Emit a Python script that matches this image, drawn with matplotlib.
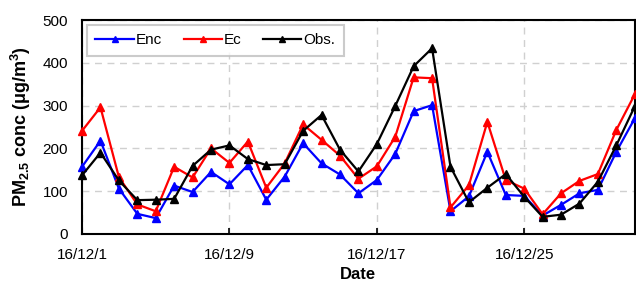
"""
PM2.5 daily concentrations, December 2016: Enc / Ec runs vs observations
"""

import numpy as np
import matplotlib
matplotlib.use('Agg')
import matplotlib.pyplot as plt

plt.rcParams['font.family'] = ['Liberation Sans', 'DejaVu Sans']
plt.rcParams['mathtext.default'] = 'regular'

days = np.arange(1, 32)
tick_days = [1, 9, 17, 25]
tick_labels = ['16/12/1', '16/12/9', '16/12/17', '16/12/25']

enc = [157, 218, 106, 47, 37, 113, 98, 145, 116, 161, 80, 134, 212, 165, 139,
       95, 126, 187, 287, 301, 53, 88, 192, 91, 89, 43, 68, 95, 103, 192, 270]
ec = [241, 296, 133, 69, 53, 157, 132, 200, 166, 216, 108, 165, 256, 220, 183,
      129, 158, 227, 366, 364, 62, 114, 262, 126, 106, 46, 95, 124, 140, 243, 326]
obs = [137, 190, 125, 79, 80, 82, 159, 197, 207, 175, 161, 163, 241, 278, 197,
       146, 210, 299, 392, 434, 157, 74, 108, 140, 87, 40, 45, 71, 122, 207, 298]

fig = plt.figure(figsize=(6.36, 2.86), dpi=100)
ax = fig.add_axes([0.129, 0.182, 0.869, 0.748])

kw = dict(marker='^', markersize=5.5, linewidth=1.6, clip_on=False, zorder=3)
ax.plot(days, enc, color='#0000FF', label='Enc', **kw)
ax.plot(days, ec, color='#FF0000', label='Ec', **kw)
ax.plot(days, obs, color='black', label='Obs.', **kw)

ax.set_xlim(1, 31)
ax.set_ylim(0, 500)
ax.set_xticks(tick_days)
ax.set_xticklabels(tick_labels)
ax.set_yticks([0, 100, 200, 300, 400, 500])
ax.tick_params(axis='x', direction='in', length=4, width=1.2, labelsize=11, pad=10)
ax.tick_params(axis='y', length=0, labelsize=11, pad=10)
ax.grid(True, color='#D0D0D0', linestyle=(0, (5, 4)), linewidth=1)
for s in ax.spines.values():
    s.set_linewidth(1.5)

ax.set_xlabel('Date', fontsize=12, fontweight='bold', labelpad=4)
ax.set_ylabel('PM$_{2.5}$ conc (μg/m$^{3}$)', fontsize=13, fontweight='bold', labelpad=7)

leg = ax.legend(loc='upper left', ncol=3, fontsize=11, frameon=True, fancybox=False,
                bbox_to_anchor=(0.009, 0.978), borderaxespad=0, handlelength=2.5,
                columnspacing=1.4, handletextpad=0.15, borderpad=0.55, markerscale=0.8)
leg.get_frame().set_edgecolor('#BFBFBF')
leg.get_frame().set_linewidth(1.5)

plt.savefig('out.png', dpi=100)
